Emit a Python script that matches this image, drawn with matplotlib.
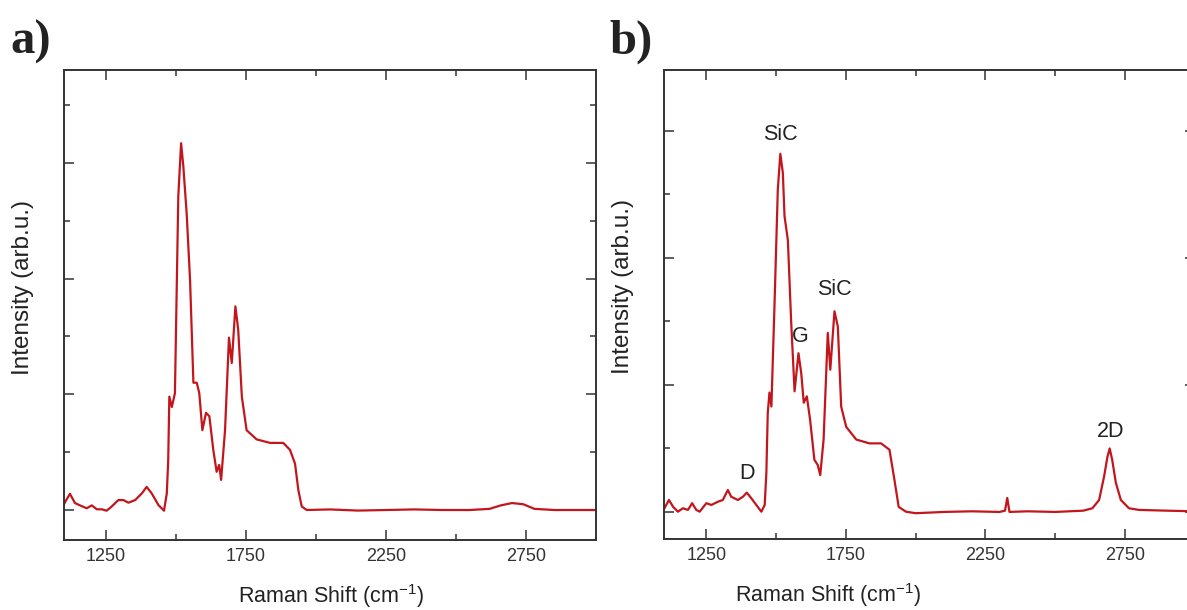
import numpy as np
import matplotlib
matplotlib.use("Agg")
import matplotlib.pyplot as plt
from matplotlib.ticker import FixedLocator

plt.rcParams['font.family'] = ['Liberation Sans', 'DejaVu Sans']
plt.rcParams['mathtext.fontset'] = 'custom'
plt.rcParams['mathtext.rm'] = 'Liberation Sans'
plt.rcParams['mathtext.it'] = 'Liberation Sans:italic'
plt.rcParams['mathtext.default'] = 'rm'

# --- spectrum a) : Raman shift (cm^-1) and intensity (arb. u.)
shift_a = [1100, 1104, 1121, 1139, 1157, 1181, 1199, 1217, 1235, 1252, 1270, 1294, 1312, 1330,
           1354, 1378, 1395, 1413, 1437, 1457, 1467, 1472, 1476, 1485, 1496, 1508, 1518,
           1526, 1538, 1550, 1562, 1574, 1583, 1594, 1607, 1619, 1633, 1645, 1654, 1661,
           1675, 1689, 1699, 1712, 1722, 1735, 1752, 1788, 1836, 1883, 1907, 1925, 1937,
           1949, 1967, 2050, 2150, 2250, 2350, 2450, 2550, 2620, 2660, 2700, 2740, 2780,
           2850, 2950, 3000]
inten_a = [0.05, 0.07, 0.14, 0.06, 0.04, 0.015, 0.04, 0.006, 0.006, -0.006, 0.03, 0.086, 0.086, 0.063,
           0.086, 0.144, 0.20, 0.144, 0.043, -0.006, 0.144, 0.43, 0.98, 0.89, 1.01, 2.71, 3.17,
           2.97, 2.56, 1.99, 1.10, 1.10, 1.01, 0.69, 0.84, 0.81, 0.52, 0.33, 0.39, 0.26,
           0.69, 1.49, 1.27, 1.76, 1.56, 0.98, 0.69, 0.61, 0.58, 0.58, 0.52, 0.40, 0.17,
           0.03, 0.0, 0.005, -0.005, 0.0, 0.005, 0.0, 0.0, 0.01, 0.04, 0.06, 0.05, 0.01,
           0.0, 0.0, 0.0]

# --- spectrum b)
shift_b = [1100, 1116, 1131, 1148, 1166, 1184, 1199, 1214, 1226, 1250, 1268, 1292, 1309, 1327,
           1339, 1363, 1381, 1395, 1411, 1429, 1447, 1459, 1465, 1470, 1476, 1483, 1494,
           1506, 1515, 1524, 1530, 1542, 1554, 1566, 1580, 1590, 1599, 1610, 1622, 1637,
           1649, 1658, 1670, 1685, 1694, 1709, 1721, 1733, 1751, 1787, 1834, 1876, 1906,
           1924, 1939, 1965, 2000, 2100, 2200, 2300, 2320, 2328, 2336, 2400, 2500, 2600,
           2633, 2657, 2675, 2687, 2695, 2704, 2717, 2735, 2764, 2800, 2900, 3000]
inten_b = [0.03, 0.094, 0.04, 0.002, 0.029, 0.016, 0.069, 0.016, 0.002, 0.069, 0.055, 0.081, 0.094, 0.173,
           0.12, 0.094, 0.12, 0.152, 0.108, 0.055, 0.002, 0.055, 0.31, 0.78, 0.94, 0.83, 1.62,
           2.54, 2.82, 2.67, 2.33, 2.14, 1.49, 0.95, 1.25, 1.09, 0.86, 0.91, 0.72, 0.41,
           0.37, 0.29, 0.57, 1.41, 1.12, 1.58, 1.46, 0.83, 0.67, 0.57, 0.54, 0.54, 0.49,
           0.25, 0.04, 0.002, -0.01, 0.0, 0.005, 0.0, 0.01, 0.11, 0.0, 0.005, 0.0, 0.01,
           0.029, 0.094, 0.28, 0.435, 0.50, 0.41, 0.23, 0.094, 0.029, 0.016, 0.01, 0.005]

# peak assignments for b)
peak_names = ['SiC', 'G', 'SiC', 'D', '2D']
peak_x = [1516, 1587, 1709, 1394, 2698]
peak_y = [2.97, 1.38, 1.75, 0.30, 0.63]

line_color = '#c3161c'
frame_color = '#333333'

fig = plt.figure(figsize=(11.87, 6.10), dpi=100)
ax_a = fig.add_axes([0.0535, 0.1148, 0.4486, 0.7705])
ax_b = fig.add_axes([0.5591, 0.1164, 0.4475, 0.7689])


def style_axes(ax, ymin, ymax, yminor):
    ax.set_xlim(1098, 3000)
    ax.set_ylim(ymin, ymax)
    ax.xaxis.set_major_locator(FixedLocator([1250, 1750, 2250, 2750]))
    ax.xaxis.set_minor_locator(FixedLocator([1500, 2000, 2500]))
    ax.yaxis.set_major_locator(FixedLocator([0, 1, 2, 3]))
    ax.yaxis.set_minor_locator(FixedLocator(yminor))
    ax.set_yticklabels([])
    ax.tick_params(which='both', direction='in', top=True, right=True,
                   color=frame_color, width=1.1)
    ax.tick_params(which='major', length=7)
    ax.tick_params(which='minor', length=4)
    ax.tick_params(axis='x', labelsize=13, labelcolor='#333333', pad=6)
    for sp in ax.spines.values():
        sp.set_linewidth(1.4)
        sp.set_color(frame_color)
    ax.set_xlabel('Raman Shift (cm$^{-1}$)', fontsize=15.5, color='#222222')
    ax.set_ylabel('Intensity (arb.u.)', fontsize=17.5, color='#222222')


ax_a.plot(shift_a, inten_a, color=line_color, lw=1.6)
style_axes(ax_a, -0.259, 3.803, [0.5, 1.5, 2.5, 3.5])
ax_a.xaxis.set_label_coords(0.502, -0.090)
ax_a.yaxis.set_label_coords(-0.056, 0.538)

ax_b.plot(shift_b, inten_b, color=line_color, lw=1.6)
style_axes(ax_b, -0.213, 3.48, [0.5, 1.5, 2.5])
ax_b.set_xlim(1097, 3000)
ax_b.xaxis.set_label_coords(0.309, -0.090)
ax_b.yaxis.set_label_coords(-0.055, 0.538)

for name, px, py in zip(peak_names, peak_x, peak_y):
    ax_b.text(px, py, name, ha='center', va='center', fontsize=15.5, color='#222222')

fig.text(0.026, 0.932, 'a)', fontsize=35, fontweight='bold', family='Liberation Serif',
         ha='center', va='center', color='#222222')
fig.text(0.532, 0.932, 'b)', fontsize=35, fontweight='bold', family='Liberation Serif',
         ha='center', va='center', color='#222222')

fig.savefig('out.png', dpi=100)
